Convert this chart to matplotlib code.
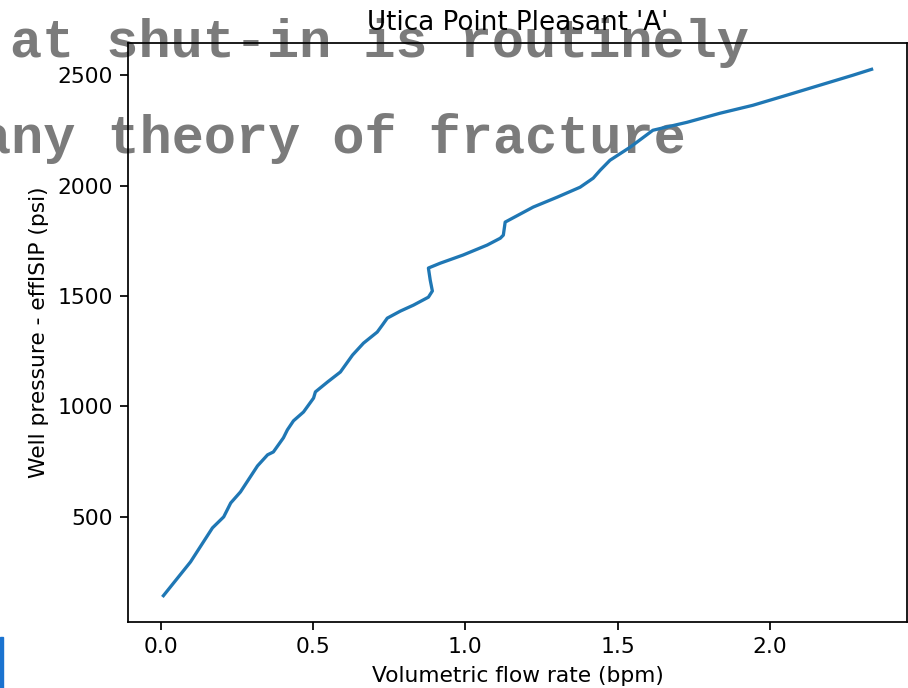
import numpy as np
import matplotlib.pyplot as plt
from matplotlib.patches import Rectangle

# curve
flow_rate = [0.009, 0.098, 0.170, 0.207, 0.230, 0.262, 0.318, 0.351, 0.370, 0.403,
             0.416, 0.436, 0.469, 0.502, 0.508, 0.548, 0.590, 0.630, 0.666, 0.711,
             0.728, 0.744, 0.787, 0.830, 0.879, 0.892, 0.885, 0.879, 0.918, 0.993,
             1.072, 1.115, 1.125, 1.131, 1.223, 1.302, 1.377, 1.420, 1.443, 1.475,
             1.541, 1.616, 1.728, 1.836, 1.944, 2.056, 2.164, 2.272, 2.334]
pressure = [143, 296, 450, 500, 563, 613, 731, 781, 794, 858,
            894, 935, 975, 1038, 1066, 1111, 1156, 1233, 1287, 1337,
            1369, 1400, 1432, 1459, 1495, 1523, 1572, 1627, 1649, 1686,
            1731, 1762, 1776, 1835, 1903, 1948, 1993, 2034, 2070, 2115,
            2174, 2251, 2287, 2328, 2364, 2410, 2455, 2500, 2527]

overlay_lines = ["at shut-in is routinely", "any theory of fracture"]

W, H = 908, 688
s = 1.57  # the screenshot is a scaled-up default figure

fig = plt.figure(figsize=(W / 100, H / 100), dpi=100)
ax = fig.add_axes([128 / W, 66 / H, 779 / W, 579 / H])
ax.set_facecolor('none')

ax.plot(flow_rate, pressure, color='#1f77b4', lw=1.5 * s)

ax.set_title("Utica Point Pleasant 'A'", fontsize=12 * s, pad=6 * s)
ax.set_xlabel('Volumetric flow rate (bpm)', fontsize=10 * s, labelpad=4 * s)
ax.set_ylabel('Well pressure - effISIP (psi)', fontsize=10 * s, labelpad=4 * s)
ax.set_yticks([500, 1000, 1500, 2000, 2500])
ax.tick_params(labelsize=10 * s, length=3.5 * s, width=0.8 * s, pad=3.5 * s)
for sp in ax.spines.values():
    sp.set_linewidth(0.8 * s)

# slide text showing behind the pasted plot
fig.text(10 / W, 1 - 57 / H, overlay_lines[0], family='Liberation Mono',
         weight='bold', fontsize=38.5, color='#7b7b7b', va='baseline', zorder=-1)
fig.text(-21 / W, 1 - 153 / H, overlay_lines[1], family='Liberation Mono',
         weight='bold', fontsize=38.5, color='#7b7b7b', va='baseline', zorder=-1)

fig.add_artist(Rectangle((0, 0), 3 / W, 51 / H, transform=fig.transFigure,
                         color='#1a73d0', zorder=-1))

fig.savefig('out.png', dpi=100)
